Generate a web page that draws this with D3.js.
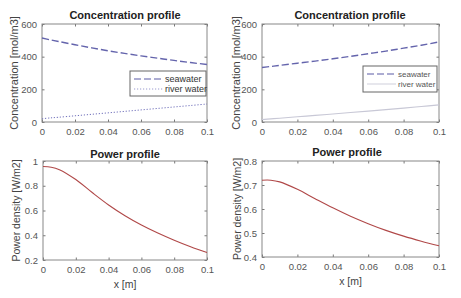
<!DOCTYPE html>
<html>
<head>
<meta charset="utf-8">
<script src="https://cdn.jsdelivr.net/npm/d3@7"></script>
<style>
  body { margin: 0; background: #fff; }
  svg { display: block; font-family: "Liberation Sans", Arial, sans-serif; }
</style>
</head>
<body>
<div id="chart"></div>
<script>
// x positions along the channel [m]
const xs = [0, 0.005, 0.01, 0.02, 0.03, 0.04, 0.05, 0.06, 0.07, 0.08, 0.09, 0.1];

// left case
const seaLeft   = [514, 503, 493, 473, 454, 436, 420, 405, 391, 377, 364, 352];
const riverLeft = [20, 25, 29, 38, 47, 56, 65, 74, 83, 92, 101, 110];
const powerLeft = [0.955, 0.95, 0.93, 0.85, 0.745, 0.645, 0.558, 0.483, 0.418, 0.36, 0.307, 0.26];

// right case
const seaRight   = [334, 340, 347, 360, 373, 387, 402, 418, 434, 452, 470, 490];
const riverRight = [15, 19, 23, 32, 40, 49, 58, 67, 76, 85, 95, 105];
const powerRight = [0.72, 0.72, 0.713, 0.682, 0.643, 0.605, 0.57, 0.539, 0.511, 0.487, 0.466, 0.447];

const xTicks = [0, 0.02, 0.04, 0.06, 0.08, 0.1];
const concTicks = [0, 200, 400, 600];
const powerTicksLeft = [0.2, 0.4, 0.6, 0.8, 1];
const powerTicksRight = [0.4, 0.5, 0.6, 0.7, 0.8];
const legendNames = ["seawater", "river water"];

const svg = d3.select("#chart").append("svg")
    .attr("width", 461)
    .attr("height", 298);

const fmt = v => String(+v.toFixed(3));

function drawPanel(p) {
    const x = d3.scaleLinear().domain([0, 0.1]).range([p.left, p.right]);
    const y = d3.scaleLinear().domain(p.yDomain).range([p.bottom, p.top]);
    const g = svg.append("g");

    // axes with ticks inside
    g.append("g")
        .attr("transform", `translate(0,${p.bottom})`)
        .call(d3.axisBottom(x).tickValues(xTicks).tickFormat(fmt).tickSizeInner(-2.5).tickSizeOuter(0).tickPadding(6))
        .call(a => a.select(".domain").remove());
    g.append("g")
        .attr("transform", `translate(${p.left},0)`)
        .call(d3.axisLeft(y).tickValues(p.yTicks).tickFormat(fmt).tickSizeInner(-2.5).tickSizeOuter(0).tickPadding(5))
        .call(a => a.select(".domain").remove());
    g.append("g")
        .attr("transform", `translate(0,${p.top})`)
        .call(d3.axisTop(x).tickValues(xTicks).tickFormat("").tickSizeInner(-2.5).tickSizeOuter(0))
        .call(a => a.select(".domain").remove());
    g.append("g")
        .attr("transform", `translate(${p.right},0)`)
        .call(d3.axisRight(y).tickValues(p.yTicks).tickFormat("").tickSizeInner(-2.5).tickSizeOuter(0))
        .call(a => a.select(".domain").remove());

    g.selectAll(".tick line").attr("stroke", "#777");
    g.selectAll(".tick text")
        .attr("fill", "#555")
        .style("font-size", "9.5px")
        .style("font-family", "'Liberation Sans', Arial, sans-serif");

    g.append("rect")
        .attr("x", p.left).attr("y", p.top)
        .attr("width", p.right - p.left).attr("height", p.bottom - p.top)
        .attr("fill", "none").attr("stroke", "#888").attr("stroke-width", 1);

    const line = d3.line()
        .x(d => x(d[0]))
        .y(d => y(d[1]))
        .curve(d3.curveCatmullRom);

    p.series.forEach(s => {
        g.append("path")
            .attr("d", line(xs.map((v, i) => [v, s.values[i]])))
            .attr("fill", "none")
            .attr("stroke", s.color)
            .attr("stroke-width", s.width)
            .attr("stroke-dasharray", s.dash || null)
            .attr("opacity", s.opacity || 1);
    });

    // title
    g.append("text")
        .attr("x", p.titleX).attr("y", p.titleY)
        .attr("text-anchor", "middle")
        .attr("fill", "#222")
        .style("font-size", "11px").style("font-weight", "bold")
        .text(p.title);

    // y label
    g.append("text")
        .attr("transform", `translate(${p.yLabelX},${(p.top + p.bottom) / 2}) rotate(-90)`)
        .attr("text-anchor", "middle")
        .attr("fill", "#444")
        .style("font-size", p.yLabelSize)
        .text(p.yLabel);

    if (p.xLabel) {
        g.append("text")
            .attr("x", (p.left + p.right) / 2).attr("y", p.xLabelY)
            .attr("text-anchor", "middle")
            .attr("fill", "#444")
            .style("font-size", "10.5px")
            .text(p.xLabel);
    }

    if (p.legend) {
        const L = p.legend;
        g.append("rect")
            .attr("x", L.x).attr("y", L.y)
            .attr("width", L.w).attr("height", L.h)
            .attr("fill", "#fff").attr("stroke", "#666").attr("stroke-width", 1);
        p.series.forEach((s, i) => {
            const yy = L.y + 8 + i * 10;
            g.append("line")
                .attr("x1", L.x + 4).attr("x2", L.x + 33)
                .attr("y1", yy).attr("y2", yy)
                .attr("stroke", s.color).attr("stroke-width", s.width)
                .attr("stroke-dasharray", s.dash || null)
                .attr("opacity", 0.7);
            g.append("text")
                .attr("x", L.x + 35).attr("y", yy + 3)
                .attr("fill", L.textColor)
                .style("font-size", L.size)
                .text(legendNames[i]);
        });
    }
}

drawPanel({
    left: 42, right: 207, top: 24, bottom: 122,
    yDomain: [0, 600], yTicks: concTicks,
    title: "Concentration profile", titleX: 125, titleY: 19,
    yLabel: "Concentration [mol/m3]", yLabelX: 18, yLabelSize: "11px",
    series: [
        { values: seaLeft, color: "#6464ac", width: 1.4, dash: "7,3" },
        { values: riverLeft, color: "#7070bb", width: 1, dash: "1.2,1.8" }
    ],
    legend: { x: 130, y: 71, w: 76, h: 25, size: "9px", textColor: "#333" }
});

drawPanel({
    left: 262, right: 439, top: 24, bottom: 122,
    yDomain: [0, 600], yTicks: concTicks,
    title: "Concentration profile", titleX: 350, titleY: 19,
    yLabel: "Concentration [mol/m3]", yLabelX: 240, yLabelSize: "11px",
    series: [
        { values: seaRight, color: "#6464ac", width: 1.4, dash: "7,3" },
        { values: riverRight, color: "#c8c8d6", width: 1.2 }
    ],
    legend: { x: 363, y: 66, w: 74, h: 26, size: "8px", textColor: "#555" }
});

drawPanel({
    left: 43, right: 207, top: 161, bottom: 260,
    yDomain: [0.2, 1], yTicks: powerTicksLeft,
    title: "Power profile", titleX: 125, titleY: 158,
    yLabel: "Power density [W/m2]", yLabelX: 20, yLabelSize: "10.5px",
    xLabel: "x [m]", xLabelY: 288,
    series: [
        { values: powerLeft, color: "#b04848", width: 1.1 }
    ]
});

drawPanel({
    left: 262, right: 439, top: 161, bottom: 257,
    yDomain: [0.4, 0.8], yTicks: powerTicksRight,
    title: "Power profile", titleX: 347, titleY: 156,
    yLabel: "Power density [W/m2]", yLabelX: 241, yLabelSize: "10.5px",
    xLabel: "x [m]", xLabelY: 285,
    series: [
        { values: powerRight, color: "#b04848", width: 1.1 }
    ]
});
</script>
</body>
</html>
